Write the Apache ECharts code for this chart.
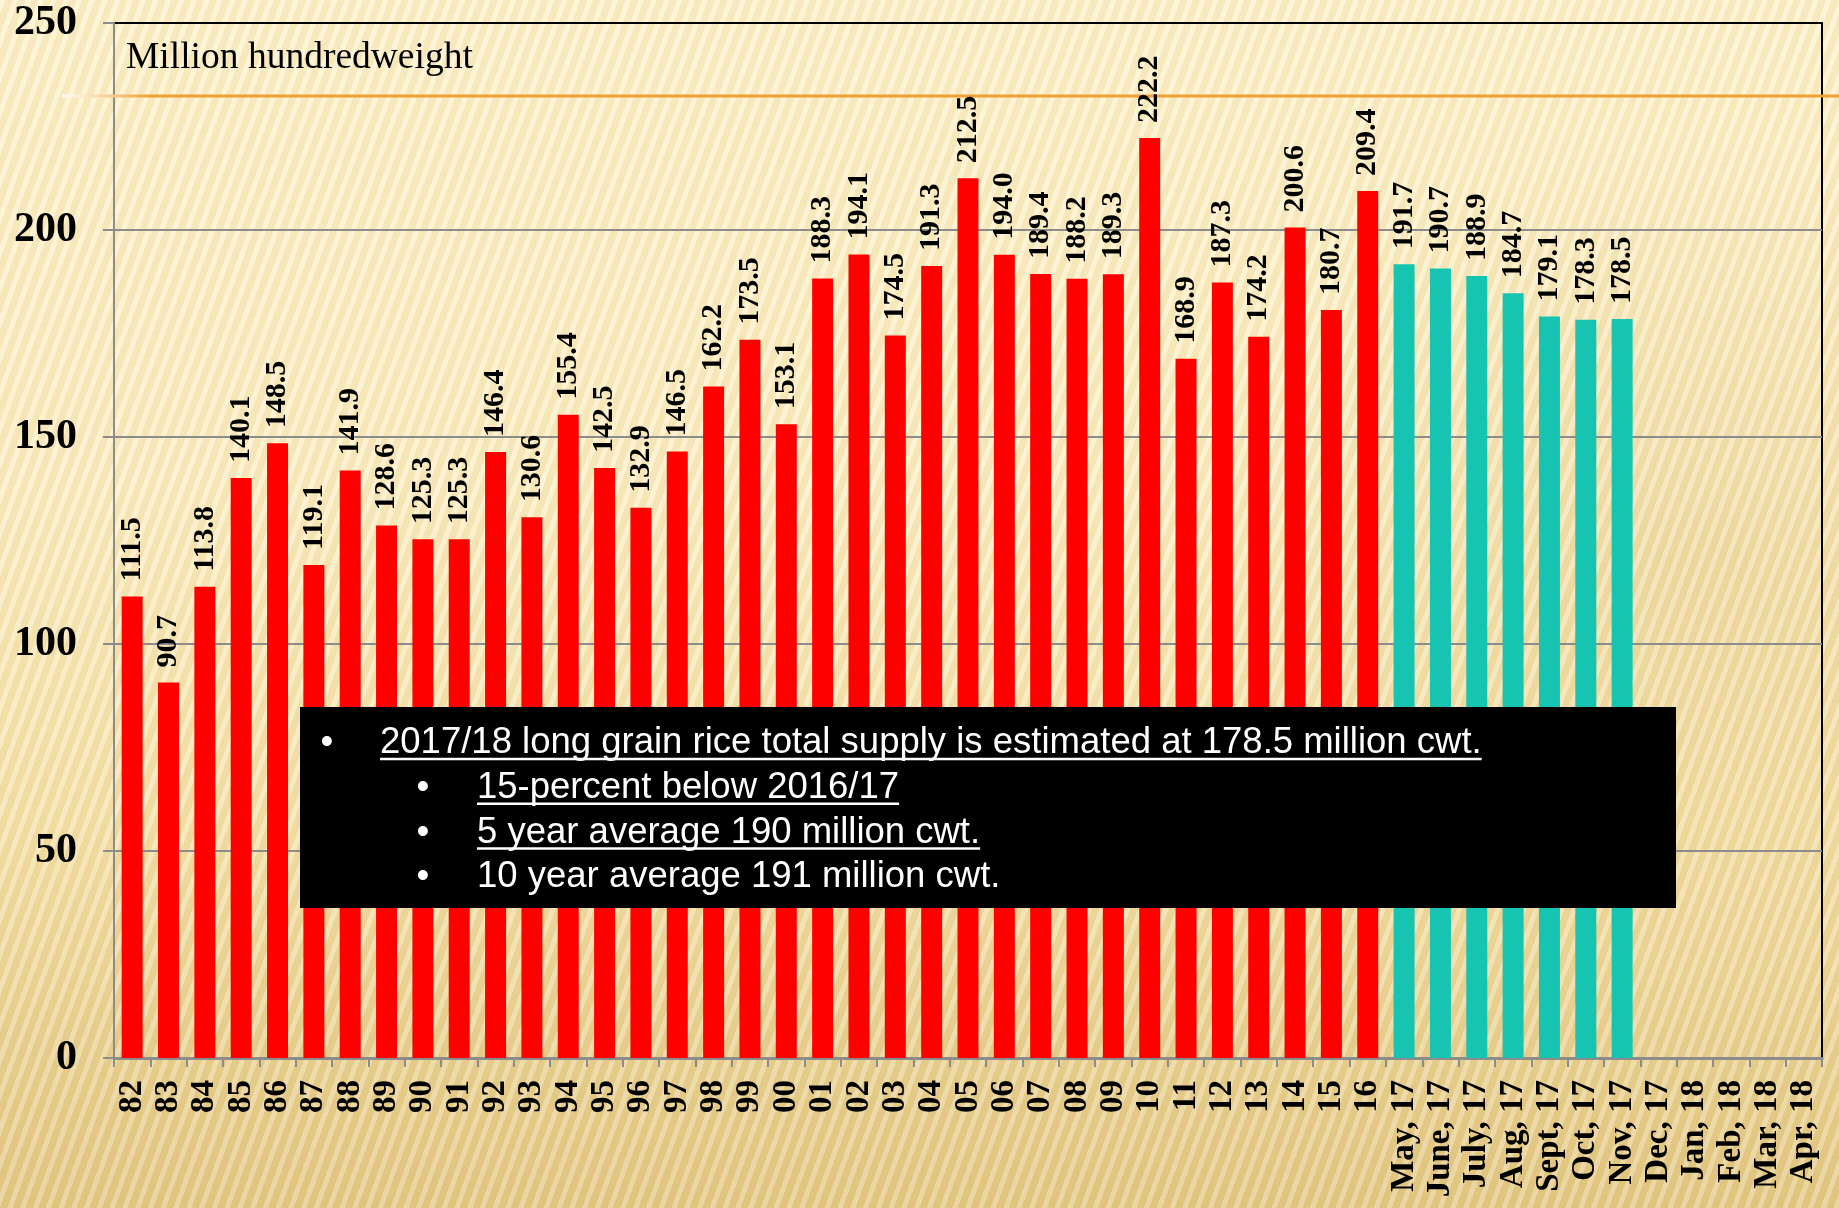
<!DOCTYPE html>
<html>
<head>
<meta charset="utf-8">
<script src="https://cdn.jsdelivr.net/npm/echarts@6/dist/echarts.min.js"></script>
<style>
html, body { margin: 0; padding: 0; width: 1839px; height: 1208px; overflow: hidden; }
body {
  background:
    repeating-linear-gradient(110deg, rgba(255,255,255,0.24) 0px, rgba(255,255,255,0.24) 5px, rgba(185,145,55,0.09) 5px, rgba(185,145,55,0.09) 12px),
    radial-gradient(ellipse 500px 420px at 1700px 560px, rgba(215,185,110,0.30), rgba(215,185,110,0) 100%),
    linear-gradient(to bottom, #FDF2CB 0%, #FCEEC3 40%, #F5E2AA 68%, #EAD293 86%, #E3C985 100%);
}
#chart { width: 1839px; height: 1208px; }
</style>
</head>
<body>
<div id="chart"></div>
<script>
// ---- data ----
const yearLabels = ['82','83','84','85','86','87','88','89','90','91','92','93','94','95','96','97','98','99',
  '00','01','02','03','04','05','06','07','08','09','10','11','12','13','14','15','16'];
const monthLabels = ['May, 17','June, 17','July, 17','Aug, 17','Sept, 17','Oct, 17','Nov, 17',
  'Dec, 17','Jan, 18','Feb, 18','Mar, 18','Apr, 18'];
const annualSupply = [111.5, 90.7, 113.8, 140.1, 148.5, 119.1, 141.9, 128.6, 125.3, 125.3, 146.4, 130.6,
  155.4, 142.5, 132.9, 146.5, 162.2, 173.5, 153.1, 188.3, 194.1, 174.5, 191.3, 212.5, 194.0, 189.4,
  188.2, 189.3, 222.2, 168.9, 187.3, 174.2, 200.6, 180.7, 209.4];
const monthlyEstimates = [191.7, 190.7, 188.9, 184.7, 179.1, 178.3, 178.5, null, null, null, null, null];
const yMin = 0, yMax = 250, yStep = 50;
const unitLabel = 'Million hundredweight';
const noteLines = [
  { text: '2017/18 long grain rice total supply is estimated at 178.5 million cwt.', level: 0, underline: true },
  { text: '15-percent below 2016/17', level: 1, underline: true },
  { text: '5 year average 190 million cwt.', level: 1, underline: true },
  { text: '10 year average 191 million cwt.', level: 1, underline: false }
];

// ---- build ----
const categories = yearLabels.concat(monthLabels);
const annualSeries = annualSupply.concat(monthLabels.map(() => null));
const monthlySeries = yearLabels.map(() => null).concat(monthlyEstimates);

const serif = '"Liberation Serif", "Times New Roman", serif';
const sans = '"Liberation Sans", Arial, sans-serif';
const noteFont = '36.5px ' + sans;

function measure(text, font) {
  const c = document.createElement('canvas').getContext('2d');
  c.font = font;
  return c.measureText(text).width;
}

const valueLabel = {
  show: true,
  position: 'top',
  rotate: 90,
  align: 'left',
  verticalAlign: 'middle',
  distance: 15,
  formatter: p => (p.value == null ? '' : Number(p.value).toFixed(1)),
  color: '#000',
  fontFamily: serif,
  fontWeight: 'bold',
  fontSize: 30
};

// note box graphics
const boxX = 300, boxY = 707, boxW = 1376, boxH = 201;
const lineY0 = 743, lineStep = 44.8;
const noteChildren = [{
  type: 'rect', z: 100,
  shape: { x: boxX, y: boxY, width: boxW, height: boxH },
  style: { fill: '#000' }
}];
noteLines.forEach((ln, i) => {
  const cy = lineY0 + i * lineStep;
  const bulletX = ln.level === 0 ? 327 : 423;
  const textX = ln.level === 0 ? 380 : 477;
  noteChildren.push({
    type: 'text', z: 101,
    style: { text: '\u2022', x: bulletX, y: cy, font: noteFont, fill: '#fff',
      align: 'center', verticalAlign: 'middle', textAlign: 'center', textVerticalAlign: 'middle' }
  });
  noteChildren.push({
    type: 'text', z: 101,
    style: { text: ln.text, x: textX, y: cy, font: noteFont, fill: '#fff',
      align: 'left', verticalAlign: 'middle', textAlign: 'left', textVerticalAlign: 'middle' }
  });
  if (ln.underline) {
    const w = measure(ln.text, noteFont);
    noteChildren.push({
      type: 'line', z: 101,
      shape: { x1: textX, y1: cy + 16, x2: textX + w, y2: cy + 16 },
      style: { stroke: '#fff', lineWidth: 2.5 }
    });
  }
});

const chart = echarts.init(document.getElementById('chart'), null, { renderer: 'canvas' });
chart.setOption({
  backgroundColor: 'transparent',
  animation: false,
  grid: {
    left: 114, right: 17, top: 23, bottom: 150,
    show: true, borderColor: '#000', borderWidth: 2, backgroundColor: 'transparent'
  },
  xAxis: {
    type: 'category',
    data: categories,
    boundaryGap: true,
    axisLine: { show: true, lineStyle: { color: '#8c8c8c', width: 3 } },
    axisTick: { show: true, length: 9, lineStyle: { color: '#8c8c8c', width: 2 } },
    axisLabel: {
      interval: 0, rotate: 90, margin: 22,
      color: '#000', fontFamily: serif, fontWeight: 'bold', fontSize: 33
    },
    splitLine: { show: false }
  },
  yAxis: {
    type: 'value',
    min: yMin, max: yMax, interval: yStep,
    axisLine: { show: true, lineStyle: { color: '#8c8c8c', width: 2 } },
    axisTick: { show: true, length: 11, lineStyle: { color: '#8c8c8c', width: 2 } },
    axisLabel: { margin: 37, color: '#000', fontFamily: serif, fontWeight: 'bold', fontSize: 42 },
    splitLine: { show: true, showMaxLine: false, lineStyle: { color: '#8c8c8c', width: 2 } }
  },
  series: [
    {
      name: 'Annual', type: 'bar', data: annualSeries, barWidth: 21, barGap: '-100%',
      itemStyle: { color: '#FF0000' }, label: valueLabel, z: 3
    },
    {
      name: 'Monthly estimate', type: 'bar', data: monthlySeries, barWidth: 21,
      itemStyle: { color: '#17C4B1' }, label: valueLabel, z: 3
    }
  ],
  graphic: [
    {
      type: 'line', z: 1,
      shape: { x1: 62, y1: 96, x2: 1839, y2: 96 },
      style: {
        lineWidth: 3,
        stroke: { type: 'linear', x: 62, y: 0, x2: 150, y2: 0, global: true,
          colorStops: [{ offset: 0, color: 'rgba(255,255,255,0.95)' }, { offset: 1, color: '#EFA033' }] }
      }
    },
    {
      type: 'text', z: 5,
      style: { text: unitLabel, x: 126, y: 58, font: '37.5px ' + serif, fill: '#000',
        align: 'left', verticalAlign: 'middle', textAlign: 'left', textVerticalAlign: 'middle' }
    },
    { type: 'group', children: noteChildren }
  ]
});
</script>
</body>
</html>
